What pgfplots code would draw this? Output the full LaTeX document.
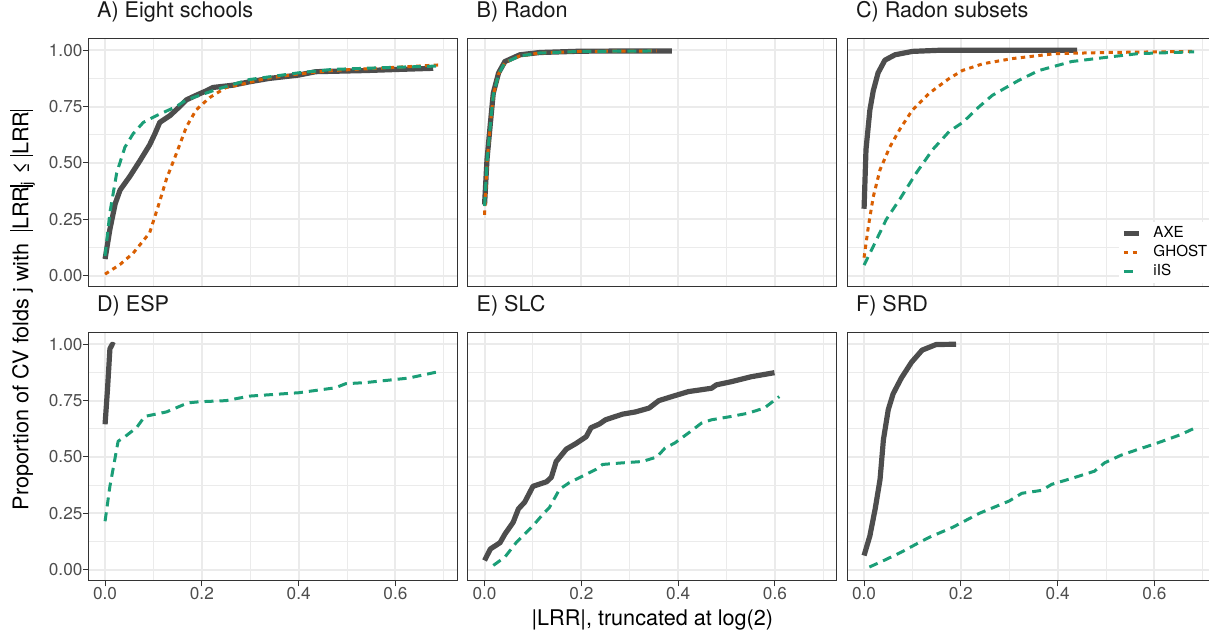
\documentclass[border=0pt]{standalone}
\usepackage{fontspec}
\setmainfont{TeX Gyre Heros}
\usepackage{pgfplots}
\pgfplotsset{compat=1.18}
\usepgfplotslibrary{groupplots}

\definecolor{axec}{HTML}{4D4D4D}
\definecolor{ghostc}{HTML}{D95F02}
\definecolor{iisc}{HTML}{1B9E77}
\definecolor{gridc}{HTML}{EBEBEB}
\definecolor{framec}{HTML}{333333}
\definecolor{tickc}{HTML}{4D4D4D}

\tikzset{
  axe/.style={draw=axec, line width=2.6pt, line join=round},
  ghost/.style={draw=ghostc, line width=1.5pt, line join=round, dash pattern=on 2.2pt off 2.2pt},
  iis/.style={draw=iisc, line width=1.5pt, line join=round, dash pattern=on 4.5pt off 3pt},
}

\begin{document}
\begin{tikzpicture}
\begin{groupplot}[
  group style={group size=3 by 2, horizontal sep=5.25pt, vertical sep=23pt,
    xticklabels at=edge bottom, yticklabels at=edge left},
  scale only axis, width=184.5pt, height=124pt,
  xmin=-0.03466, xmax=0.7278, ymin=-0.05, ymax=1.05,
  xtick={0,0.2,0.4,0.6}, minor xtick={0.1,0.3,0.5,0.7},
  ytick={0,0.25,0.5,0.75,1}, minor ytick={0.125,0.375,0.625,0.875},
  grid=both,
  major grid style={draw=gridc, line width=1pt},
  minor grid style={draw=gridc, line width=0.5pt},
  axis line style={draw=framec, line width=0.5pt},
  tick align=outside, xtick pos=bottom, ytick pos=left,
  major tick length=2.75pt, minor tick length=0pt,
  tick style={draw=framec, line width=0.5pt},
  tick label style={font=\fontsize{8.6}{10}\selectfont, text=tickc, inner sep=0pt},
  xticklabel style={/pgf/number format/.cd, fixed, fixed zerofill, precision=1, assume math mode=true},
  yticklabel style={/pgf/number format/.cd, fixed, fixed zerofill, precision=2, assume math mode=true},
  title style={at={(0,1)}, anchor=base west, xshift=4.2pt, yshift=4.85pt, inner sep=0pt,
    font=\fontsize{10.8}{12}\selectfont, text=black!90},
  legend image code/.code={\draw[#1] (0pt,0pt) -- (7.5pt,0pt);},
]

\nextgroupplot[title={A) Eight schools}, xtick style={draw=none}]
\addplot[axe] coordinates {(0,0.074) (0.010,0.206) (0.021,0.32) (0.031,0.38) (0.051,0.44) (0.072,0.51) (0.092,0.58) (0.103,0.63) (0.113,0.68) (0.134,0.71) (0.154,0.75) (0.168,0.78) (0.188,0.80) (0.209,0.82) (0.223,0.835) (0.264,0.845) (0.298,0.86) (0.339,0.875) (0.40,0.89) (0.435,0.905) (0.538,0.91) (0.606,0.915) (0.678,0.92)};
\addplot[ghost] coordinates {(0,0.007) (0.031,0.05) (0.058,0.10) (0.092,0.19) (0.110,0.31) (0.127,0.43) (0.147,0.54) (0.168,0.66) (0.188,0.735) (0.216,0.79) (0.25,0.835) (0.284,0.85) (0.332,0.875) (0.40,0.895) (0.469,0.91) (0.606,0.925) (0.69,0.935)};
\addplot[iis] coordinates {(0,0.088) (0.010,0.28) (0.024,0.456) (0.041,0.57) (0.058,0.63) (0.079,0.68) (0.106,0.71) (0.147,0.75) (0.168,0.78) (0.195,0.80) (0.236,0.83) (0.298,0.87) (0.40,0.90) (0.469,0.915) (0.606,0.925) (0.688,0.93)};

\nextgroupplot[title={B) Radon}, xtick style={draw=none}, ytick style={draw=none}]
\addplot[axe] coordinates {(0,0.316) (0.005,0.515) (0.012,0.676) (0.018,0.81) (0.029,0.90) (0.042,0.95) (0.073,0.98) (0.114,0.99) (0.20,0.996) (0.387,0.997)};
\addplot[ghost] coordinates {(0,0.27) (0.005,0.50) (0.012,0.67) (0.018,0.80) (0.029,0.895) (0.042,0.945) (0.073,0.975) (0.114,0.988) (0.20,0.995) (0.356,0.997)};
\addplot[iis] coordinates {(0,0.31) (0.005,0.505) (0.012,0.67) (0.018,0.80) (0.029,0.895) (0.042,0.945) (0.073,0.975) (0.114,0.988) (0.20,0.995) (0.356,0.997)};

\nextgroupplot[title={C) Radon subsets}, xtick style={draw=none}, ytick style={draw=none},
  legend style={at={(0.736,0.262)}, anchor=north west, draw=none, fill=white, inner sep=1pt,
    font=\fontsize{7.6}{9}\selectfont, row sep=0pt,
    nodes={inner sep=0pt, text height=6.5pt, text depth=2.9pt},
    /tikz/every odd column/.append style={column sep=6pt}},
  legend cell align=left]
\addplot[axe] coordinates {(0,0.297) (0.004,0.56) (0.012,0.735) (0.019,0.82) (0.029,0.90) (0.043,0.956) (0.064,0.98) (0.10,0.995) (0.156,1.0) (0.44,1.0)};
\addlegendentry{AXE}
\addplot[ghost] coordinates {(0,0.08) (0.009,0.22) (0.019,0.35) (0.033,0.47) (0.053,0.57) (0.074,0.65) (0.10,0.735) (0.135,0.81) (0.176,0.875) (0.203,0.91) (0.245,0.94) (0.306,0.963) (0.395,0.985) (0.498,0.99) (0.682,0.995)};
\addlegendentry{GHOST}
\addplot[iis] coordinates {(0,0.047) (0.019,0.13) (0.046,0.25) (0.074,0.34) (0.108,0.456) (0.142,0.56) (0.176,0.64) (0.204,0.68) (0.238,0.75) (0.265,0.80) (0.32,0.867) (0.361,0.91) (0.429,0.95) (0.498,0.968) (0.566,0.985) (0.682,0.993)};
\addlegendentry{iIS}

\nextgroupplot[title={D) ESP}]
\addplot[axe] coordinates {(0,0.645) (0.005,0.80) (0.010,0.98) (0.015,1.0) (0.019,0.995)};
\addplot[iis] coordinates {(0,0.215) (0.010,0.37) (0.027,0.57) (0.041,0.59) (0.065,0.63) (0.082,0.68) (0.127,0.70) (0.171,0.74) (0.195,0.745) (0.25,0.75) (0.298,0.77) (0.40,0.785) (0.476,0.807) (0.497,0.825) (0.538,0.83) (0.627,0.85) (0.688,0.878)};

\nextgroupplot[title={E) SLC}, ytick style={draw=none}]
\addplot[axe] coordinates {(0,0.041) (0.012,0.092) (0.032,0.12) (0.042,0.158) (0.059,0.21) (0.07,0.27) (0.083,0.30) (0.10,0.37) (0.128,0.39) (0.138,0.41) (0.148,0.48) (0.169,0.535) (0.189,0.56) (0.21,0.59) (0.22,0.63) (0.237,0.646) (0.25,0.665) (0.285,0.69) (0.312,0.70) (0.34,0.717) (0.36,0.75) (0.387,0.768) (0.421,0.79) (0.469,0.805) (0.479,0.82) (0.51,0.834) (0.551,0.856) (0.599,0.874)};
\addplot[iis] coordinates {(0.018,0.019) (0.042,0.056) (0.066,0.122) (0.10,0.195) (0.121,0.247) (0.134,0.276) (0.155,0.357) (0.175,0.386) (0.203,0.416) (0.23,0.445) (0.244,0.467) (0.285,0.474) (0.326,0.48) (0.356,0.50) (0.373,0.54) (0.393,0.562) (0.421,0.606) (0.448,0.65) (0.469,0.665) (0.51,0.68) (0.544,0.694) (0.578,0.717) (0.609,0.768)};

\nextgroupplot[title={F) SRD}, ytick style={draw=none}]
\addplot[axe] coordinates {(0,0.063) (0.012,0.15) (0.023,0.27) (0.033,0.40) (0.04,0.577) (0.05,0.71) (0.06,0.78) (0.077,0.85) (0.098,0.92) (0.12,0.974) (0.149,0.999) (0.19,1.0)};
\addplot[iis] coordinates {(0.011,0.012) (0.04,0.04) (0.077,0.078) (0.108,0.114) (0.135,0.144) (0.183,0.188) (0.238,0.25) (0.30,0.305) (0.326,0.339) (0.367,0.352) (0.388,0.379) (0.429,0.405) (0.476,0.437) (0.497,0.474) (0.531,0.508) (0.565,0.533) (0.606,0.562) (0.654,0.599) (0.688,0.633)};
\end{groupplot}

\node[anchor=base, font=\fontsize{10.8}{12}\selectfont] at ([yshift=-22.5pt]group c2r2.south) {|LRR|, truncated at log(2)};
\path ([xshift=-30pt]group c1r1.north west) -- ([xshift=-30pt]group c1r2.south west)
  node[midway, rotate=90, anchor=base, font=\fontsize{10.8}{12}\selectfont]
  {Proportion of CV folds j with\ \ \rule[-0.22em]{0.07em}{1.05em}LRR\rule[-0.22em]{0.07em}{1.05em}\textsubscript{j} ≤ \rule[-0.22em]{0.07em}{1.05em}LRR\rule[-0.22em]{0.07em}{1.05em}};

\pgfresetboundingbox
\path ([xshift=-44.15pt, yshift=19.5pt]group c1r1.north west) rectangle ([xshift=560.35pt, yshift=-296pt]group c1r1.north west);
\end{tikzpicture}
\end{document}
